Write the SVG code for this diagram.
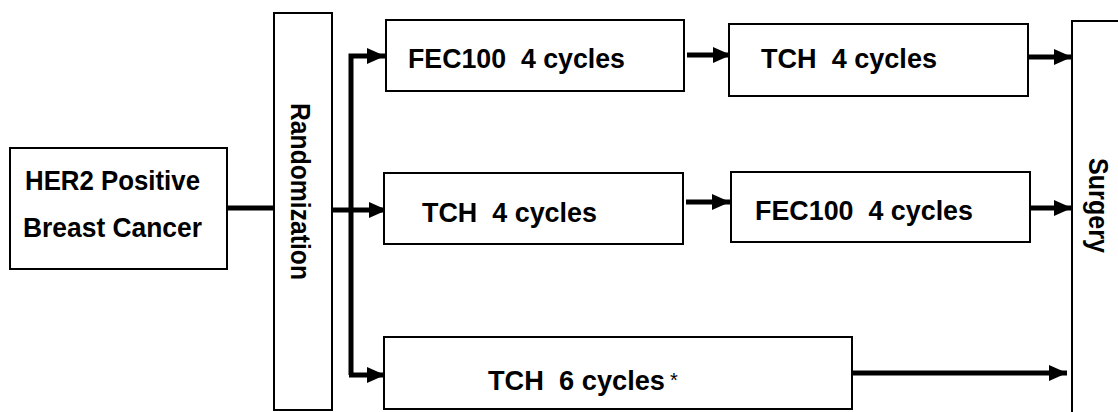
<svg xmlns="http://www.w3.org/2000/svg" width="1118" height="412" viewBox="0 0 1118 412">
  <style>
    .box { fill: #ffffff; stroke: #000000; stroke-width: 2; }
    .lbl { font-family: "Liberation Sans", Arial, sans-serif; font-weight: bold; font-size: 28px; fill: #000000; white-space: pre; }
    .conn { fill: none; stroke: #000000; stroke-width: 5; stroke-linejoin: miter; }
  </style>
  <defs>
    <marker id="arrow" markerUnits="userSpaceOnUse" markerWidth="19" markerHeight="18" refX="18" refY="8" orient="auto">
      <path d="M0,0 L18,8 L0,16 Z" fill="#000000"/>
    </marker>
  </defs>

  <rect width="1118" height="412" fill="#ffffff"/>

  <!-- connectors -->
  <g id="connectors">
    <path class="conn" d="M227,208 H274" stroke-width="4"/>
    <path class="conn" d="M332,210 H387" marker-end="url(#arrow)"/>
    <path class="conn" d="M351,375 V56 H385" marker-end="url(#arrow)"/>
    <path class="conn" d="M349,375 H385" marker-end="url(#arrow)"/>
    <path class="conn" d="M687,55 H731" marker-end="url(#arrow)"/>
    <path class="conn" d="M1028,57 H1072" marker-end="url(#arrow)"/>
    <path class="conn" d="M686,202 H730" marker-end="url(#arrow)"/>
    <path class="conn" d="M1030,208 H1072" marker-end="url(#arrow)"/>
    <path class="conn" d="M852,373 H1067" marker-end="url(#arrow)"/>
  </g>

  <g id="her2">
    <rect class="box" x="10" y="148" width="217" height="121"/>
    <text class="lbl" x="25" y="190" textLength="175" lengthAdjust="spacingAndGlyphs">HER2 Positive</text>
    <text class="lbl" x="23" y="237" textLength="179" lengthAdjust="spacingAndGlyphs">Breast Cancer</text>
  </g>

  <g id="randomization">
    <rect class="box" x="274" y="13" width="58" height="397"/>
    <text class="lbl" transform="translate(291,103) rotate(90)" textLength="177" lengthAdjust="spacingAndGlyphs">Randomization</text>
  </g>

  <g id="arm1-fec">
    <rect class="box" x="386" y="20" width="298" height="71"/>
    <text class="lbl" x="408" y="68" textLength="217" lengthAdjust="spacingAndGlyphs" xml:space="preserve">FEC100  4 cycles</text>
  </g>

  <g id="arm1-tch">
    <rect class="box" x="729" y="24" width="299" height="72"/>
    <text class="lbl" x="761" y="68" textLength="176" lengthAdjust="spacingAndGlyphs" xml:space="preserve">TCH  4 cycles</text>
  </g>

  <g id="arm2-tch">
    <rect class="box" x="384" y="173" width="299" height="71"/>
    <text class="lbl" x="422" y="222" textLength="175" lengthAdjust="spacingAndGlyphs" xml:space="preserve">TCH  4 cycles</text>
  </g>

  <g id="arm2-fec">
    <rect class="box" x="731" y="172" width="299" height="70"/>
    <text class="lbl" x="755" y="220" textLength="218" lengthAdjust="spacingAndGlyphs" xml:space="preserve">FEC100  4 cycles</text>
  </g>

  <g id="arm3-tch">
    <rect class="box" x="384" y="337" width="468" height="72"/>
    <text class="lbl" x="488" y="390" textLength="177" lengthAdjust="spacingAndGlyphs" xml:space="preserve">TCH  6 cycles</text>
    <text x="670" y="387" style="font-family:'Liberation Sans', Arial, sans-serif; font-size:20px; fill:#000000">*</text>
  </g>

  <g id="surgery">
    <rect class="box" x="1072" y="21" width="60" height="400"/>
    <text class="lbl" transform="translate(1089,158) rotate(90)" textLength="95" lengthAdjust="spacingAndGlyphs">Surgery</text>
  </g>
</svg>
